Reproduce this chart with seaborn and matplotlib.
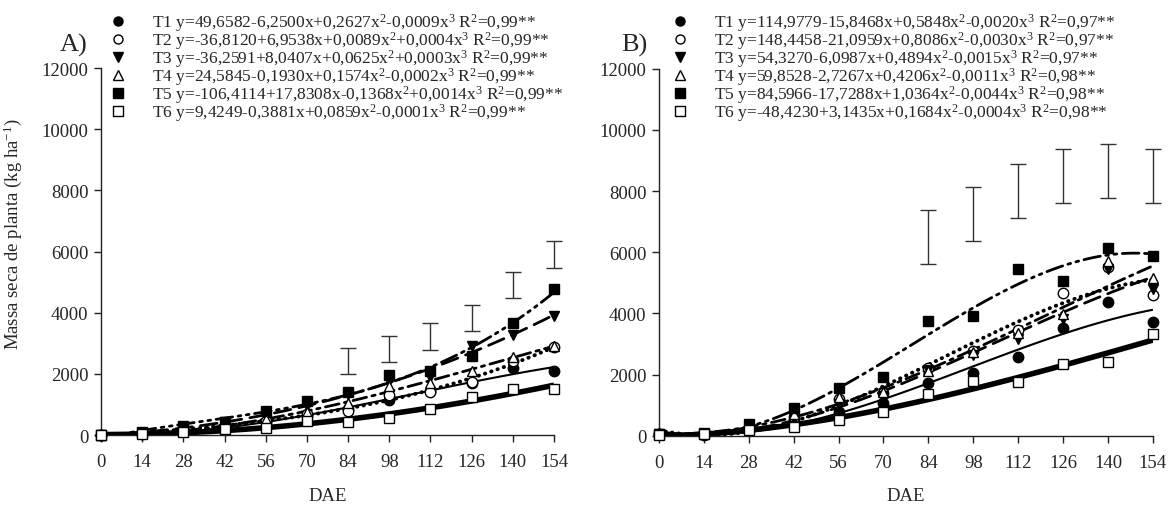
import numpy as np
import matplotlib
matplotlib.use("Agg")
import matplotlib.pyplot as plt
from matplotlib.lines import Line2D
import seaborn as sns

# ── DATA ──────────────────────────────────────────────────────────────────────
dae = [0, 14, 28, 42, 56, 70, 84, 98, 112, 126, 140, 154]

# Panel A - observed means (kg/ha)
a_t1 = [0, 40, 150, 280, 430, 620, 850, 1150, 1450, 1700, 2200, 2100]
a_t2 = [0, 50, 160, 290, 470, 700, 800, 1320, 1400, 1720, 2430, 2870]
a_t3 = [0, 80, 250, 430, 650, 950, 1340, 1780, 1900, 2920, 3270, 3900]
a_t4 = [0, 60, 140, 300, 520, 740, 1050, 1610, 1700, 2100, 2540, 2920]
a_t5 = [0, 90, 280, 420, 770, 1120, 1400, 1970, 2080, 2600, 3670, 4780]
a_t6 = [0, 20, 90, 200, 220, 450, 440, 560, 850, 1230, 1490, 1520]

# Panel B - observed means (kg/ha)
b_t1 = [50, 30, 250, 500, 760, 1070, 1720, 2040, 2580, 3520, 4370, 3720]
b_t2 = [50, 50, 250, 600, 1200, 1400, 2200, 2760, 3460, 4670, 5500, 4600]
b_t3 = [50, 50, 250, 550, 1030, 1300, 2150, 2650, 3160, 3830, 5450, 4790]
b_t4 = [50, 50, 280, 700, 1250, 1420, 2120, 2720, 3350, 3980, 5720, 5140]
b_t5 = [50, 80, 380, 900, 1550, 1930, 3740, 3910, 5450, 5060, 6150, 5880]
b_t6 = [20, 50, 200, 270, 520, 790, 1360, 1780, 1740, 2340, 2400, 3320]

# LSD bars (centre and half-length)
err_x = [84, 98, 112, 126, 140, 154]
a_err_mid = [2420, 2810, 3220, 3820, 4910, 5910]
a_err_half = [430, 435, 430, 420, 435, 435]
b_err_mid = [6500, 7250, 8000, 8500, 8660, 8500]
b_err_half = [890, 880, 890, 880, 890, 880]

a_labels = [
    "T1 y=49,6582-6,2500x+0,2627x$^2$-0,0009x$^3$ R$^2$=0,99**",
    "T2 y=-36,8120+6,9538x+0,0089x$^2$+0,0004x$^3$ R$^2$=0,99**",
    "T3 y=-36,2591+8,0407x+0,0625x$^2$+0,0003x$^3$ R$^2$=0,99**",
    "T4 y=24,5845-0,1930x+0,1574x$^2$-0,0002x$^3$ R$^2$=0,99**",
    "T5 y=-106,4114+17,8308x-0,1368x$^2$+0,0014x$^3$ R$^2$=0,99**",
    "T6 y=9,4249-0,3881x+0,0859x$^2$-0,0001x$^3$ R$^2$=0,99**",
]
b_labels = [
    "T1 y=114,9779-15,8468x+0,5848x$^2$-0,0020x$^3$ R$^2$=0,97**",
    "T2 y=148,4458-21,0959x+0,8086x$^2$-0,0030x$^3$ R$^2$=0,97**",
    "T3 y=54,3270-6,0987x+0,4894x$^2$-0,0015x$^3$ R$^2$=0,97**",
    "T4 y=59,8528-2,7267x+0,4206x$^2$-0,0011x$^3$ R$^2$=0,98**",
    "T5 y=84,5966-17,7288x+1,0364x$^2$-0,0044x$^3$ R$^2$=0,98**",
    "T6 y=-48,4230+3,1435x+0,1684x$^2$-0,0004x$^3$ R$^2$=0,98**",
]

# ── STYLE ─────────────────────────────────────────────────────────────────────
sns.set_style("ticks")
plt.rcParams.update({
    "font.family": ["Liberation Serif", "DejaVu Serif"],
    "mathtext.fontset": "custom",
    "mathtext.rm": "Liberation Serif",
    "mathtext.it": "Liberation Serif",
    "axes.spines.top": False,
    "axes.spines.right": False,
    "axes.edgecolor": "#222222",
    "axes.linewidth": 1.0,
})

# marker, face, line width, dash pattern per treatment
MARKERS = ["o", "o", "v", "^", "s", "s"]
FACES = ["black", "white", "black", "white", "black", "white"]
LWS = [1.5, 2.8, 2.0, 2.0, 2.0, 4.0]
DASHES = ["-", (0, (0.1, 1.6)), (0, (6, 3)), (0, (5, 2, 1.2, 2)), (0, (6, 2, 1, 2, 1, 2)), "-"]


def draw_panel(ax, series, err_mid, err_half):
    x = np.array(dae, dtype=float)
    for i, y in enumerate(series):
        sns.regplot(x=x, y=np.array(y, dtype=float), order=3, ci=None, scatter=False,
                    truncate=True, ax=ax,
                    line_kws=dict(color="black", lw=LWS[i], linestyle=DASHES[i],
                                  dash_capstyle="round", solid_capstyle="butt"))
    for i, y in enumerate(series):
        ax.plot(x, y, linestyle="none", marker=MARKERS[i], ms=7.5,
                mfc=FACES[i], mec="black", mew=1.0, zorder=5, clip_on=False)
    bars = ax.errorbar(err_x, err_mid, yerr=err_half, fmt="none", ecolor="#333333",
                       elinewidth=1.0, capsize=6, capthick=1.0)
    for artist in bars.lines[1] + bars.lines[2]:
        artist.set_clip_on(False)

    ax.set_xlim(0, 154)
    ax.set_ylim(0, 12000)
    ax.set_xticks(dae)
    ax.set_yticks(range(0, 12001, 2000))
    ax.tick_params(axis="both", labelsize=13.5, length=5, width=1, direction="out",
                   color="#222222", pad=4)
    ax.tick_params(axis="x", pad=8)
    ax.set_xlabel("DAE", fontsize=13.5, labelpad=12)


fig = plt.figure(figsize=(11.7, 5.06), dpi=100)
ax_a = fig.add_axes([0.0863, 0.1383, 0.3872, 0.7253])
ax_b = fig.add_axes([0.5632, 0.137, 0.4222, 0.7253])

draw_panel(ax_a, [a_t1, a_t2, a_t3, a_t4, a_t5, a_t6], a_err_mid, a_err_half)
draw_panel(ax_b, [b_t1, b_t2, b_t3, b_t4, b_t5, b_t6], b_err_mid, b_err_half)

ax_a.set_ylabel("Massa seca de planta (kg ha$^{-1}$)", fontsize=13.5)
ax_a.yaxis.set_label_coords(-0.17, 0.55)

fig.text(0.051, 0.91, "A)", fontsize=19, ha="left", va="center")
fig.text(0.531, 0.91, "B)", fontsize=19, ha="left", va="center")

# legends: marker only, equation text
for ax, labels, x0 in [(ax_a, a_labels, 109 / 1170), (ax_b, b_labels, 671 / 1170)]:
    handles = [Line2D([], [], linestyle="none", marker=MARKERS[i], ms=6.5,
                      mfc=FACES[i], mec="black", mew=1.0) for i in range(6)]
    ax.legend(handles, labels, loc="upper left", bbox_to_anchor=(x0, 1 - 12 / 506),
              bbox_transform=fig.transFigure, frameon=False, fontsize=12.5,
              handlelength=1.0, handletextpad=1.5, labelspacing=-0.22, borderpad=0,
              borderaxespad=0)

fig.savefig("out.png", dpi=100)
